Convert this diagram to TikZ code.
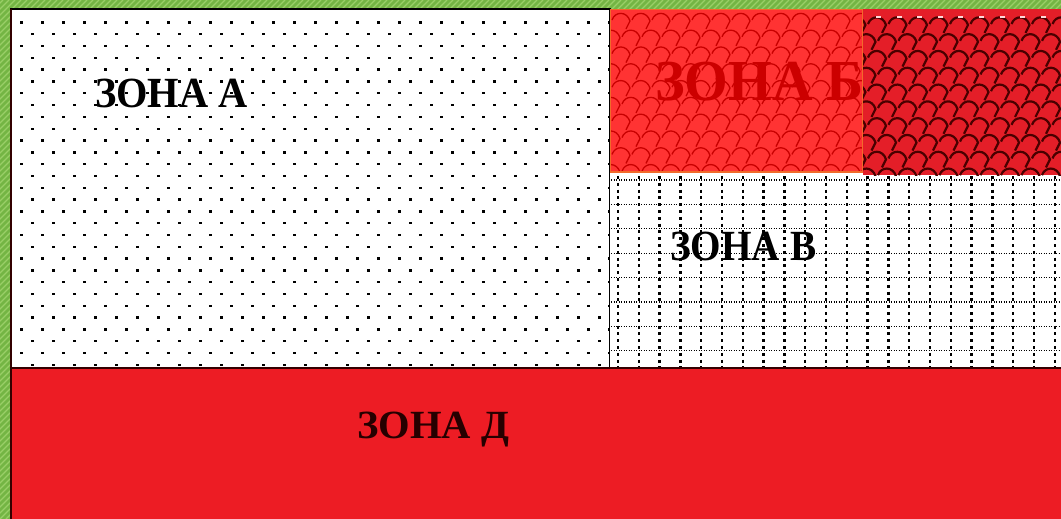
\documentclass[tikz,border=0pt]{standalone}
\usepackage{fontspec}
\setmainfont{Liberation Serif}
\definecolor{bggreen}{HTML}{74B544}
\definecolor{bglight}{HTML}{9ACF68}
\definecolor{zbfill}{HTML}{FF3333}
\definecolor{zbline}{HTML}{C80000}
\definecolor{zbtext}{HTML}{CC0000}
\definecolor{zborder}{HTML}{F26A2A}
\definecolor{darkfill}{HTML}{E41E28}
\definecolor{darkline}{HTML}{4A0000}
\definecolor{zdfill}{HTML}{ED1C24}
\tikzset{
  zonelabel/.style={inner sep=0pt, anchor=base west, font=\bfseries\fontsize{43}{43}\selectfont, xscale=0.94},
  bigzonelabel/.style={zonelabel, font=\bfseries\fontsize{58}{58}\selectfont, xscale=1.03, text=zbtext},
  scale line/.style={line width=1.3pt}
}
\begin{document}
\begin{tikzpicture}[x=1pt,y=-1pt]
\useasboundingbox (0,0) rectangle (1061,519);
% green hatched background
\fill[bggreen] (0,0) rectangle (1061,519);
\begin{scope}
  \clip (0,0) rectangle (1061,519);
  \foreach \k in {-540,-534,...,1080} \draw[bglight, line width=1.3pt] (\k,519) -- ++(519,-519);
\end{scope}
% ---- Zone A (dotted)
\fill[white] (11,9) rectangle (610,368);
\begin{scope}
  \clip (11,9) rectangle (610,368);
  \foreach \j in {0,...,29} {
    \foreach \i in {0,...,28} {
      \pgfmathsetmacro\xx{21.7+21*\i+10.5*mod(\j,2)}
      \pgfmathsetmacro\yy{22.5+11.8*\j}
      \fill[black] (\xx-1.3,\yy-1.2) rectangle ++(2.6,2.4);
    }
  }
\end{scope}
\draw[black, line width=2pt] (11,9) rectangle (610,368);
\node[zonelabel] (za) at (95,107) {ЗОНА А};
% ---- Zone B (grid)
\fill[white] (610,172) rectangle (1061,368);
\begin{scope}
  \clip (611,172) rectangle (1061,368);
  \foreach \k in {0,...,21} {
    \pgfmathsetmacro\xx{618+20.8*\k}
    \draw[black, line width=2.3pt, dash pattern=on 3pt off 3.8pt] (\xx,176) -- (\xx,368);
  }
  \foreach \k in {0,...,7} {
    \pgfmathsetmacro\yy{180+24.4*\k}
    \draw[black, line width=1.2pt, dash pattern=on 1.3pt off 1.2pt] (611,\yy) -- (1061,\yy);
  }
\end{scope}
\node[zonelabel, xscale=0.97] (zv) at (670,260) {ЗОНА В};
% ---- Zone Б (scales)
\fill[zbfill] (610,9) rectangle (863,172);
\begin{scope}
  \clip (610,9) rectangle (863,172);
  \foreach \j in {0,...,10} {
    \foreach \i in {-1,...,13} {
      \pgfmathsetmacro\xx{612+20*\i+10*mod(\j,2)}
      \pgfmathsetmacro\yy{20+16.8*\j}
      \draw[zbline, scale line] (\xx,\yy) .. controls (\xx+3,\yy-9) and (\xx+15,\yy-9) .. (\xx+18,\yy+1) -- (\xx+14,\yy+9);
    }
  }
\end{scope}
\node[bigzonelabel] (zb) at (655,100) {ЗОНА Б};
\draw[zborder, line width=1.8pt] (610.5,9.5) rectangle (862.5,172);
% ---- dark red region
\fill[darkfill] (863,9) rectangle (1061,175);
\begin{scope}
  \clip (863,9) rectangle (1061,175);
  \foreach \j in {0,...,10} {
    \foreach \i in {-1,...,10} {
      \pgfmathsetmacro\xx{868+20.5*\i+10*mod(\j,2)}
      \pgfmathsetmacro\yy{24+16.8*\j}
      \draw[darkline, line width=2.2pt] (\xx,\yy) .. controls (\xx+3,\yy-9) and (\xx+15,\yy-9) .. (\xx+18,\yy+1) -- (\xx+14,\yy+9);
    }
  }
  \foreach \i in {0,...,9} \fill[white!85!red] (876+20.6*\i,16.5) rectangle ++(5,1.5);
\end{scope}
% ---- Zone Д
\fill[zdfill] (11,368) rectangle (1061,519);
\draw[black!80!red, line width=2.5pt] (11,368) -- (1061,368);
\draw[black!80!red, line width=2pt] (11,9) -- (11,519);
\node[zonelabel, font=\bfseries\fontsize{40}{40}\selectfont, xscale=1.08, text=black!85!red] (zd) at (357,438) {ЗОНА Д};
\end{tikzpicture}
\end{document}
